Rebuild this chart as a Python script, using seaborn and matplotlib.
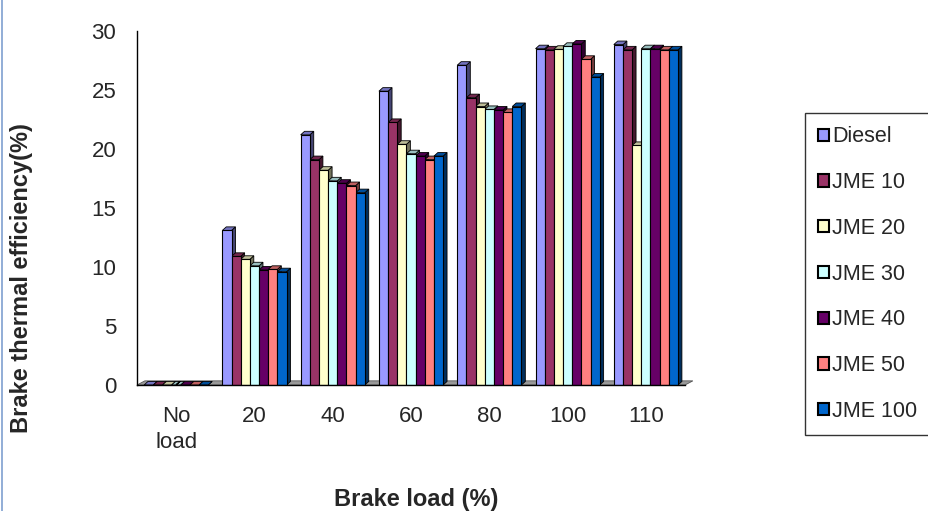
import matplotlib
matplotlib.use("Agg")
import matplotlib.pyplot as plt
from matplotlib.patches import Polygon, Rectangle
import seaborn as sns
import pandas as pd

loads = ["No\nload", "20", "40", "60", "80", "100", "110"]
fuels = ["Diesel", "JME 10", "JME 20", "JME 30", "JME 40", "JME 50", "JME 100"]
diesel = [0, 13.1, 21.2, 24.9, 27.1, 28.5, 28.85]
jme10 = [0, 10.9, 19.1, 22.25, 24.35, 28.4, 28.4]
jme20 = [0, 10.65, 18.2, 20.4, 23.6, 28.45, 20.3]
jme30 = [0, 10.1, 17.3, 19.6, 23.35, 28.7, 28.5]
jme40 = [0, 9.75, 17.1, 19.4, 23.3, 28.9, 28.5]
jme50 = [0, 9.8, 16.9, 19.1, 23.1, 27.6, 28.4]
jme100 = [0, 9.6, 16.3, 19.4, 23.6, 26.1, 28.4]
colors = ["#9999FF", "#993366", "#FFFFCC", "#CCFFFF", "#660066", "#FF8080", "#0066CC"]

series = [diesel, jme10, jme20, jme30, jme40, jme50, jme100]
rows = []
for f, vals in zip(fuels, series):
    for l, v in zip(loads, vals):
        rows.append({"load": l, "fuel": f, "eff": v})
df = pd.DataFrame(rows)

sns.set_style("white")
plt.rcParams["font.family"] = ["Liberation Sans", "DejaVu Sans"]

fig = plt.figure(figsize=(9.29, 5.11), dpi=100)
ax = fig.add_axes([0.1475, 0.2466, 0.600, 0.6927])

sns.barplot(data=df, x="load", y="eff", hue="fuel", order=loads, hue_order=fuels,
            palette=colors, width=0.82, edgecolor="black", linewidth=0.8,
            ax=ax, legend=True, saturation=1)

# pseudo 3D depth
dx, dy = 0.05, 0.3
for patch in list(ax.patches):
    x = patch.get_x(); w = patch.get_width(); h = patch.get_height()
    fc = patch.get_facecolor()
    dark = tuple(c * 0.45 for c in fc[:3])
    side = Polygon([(x + w, 0), (x + w + dx, dy), (x + w + dx, h + dy), (x + w, h)],
                   closed=True, facecolor=dark, edgecolor="black", linewidth=0.6,
                   zorder=patch.get_zorder() - 0.1)
    top = Polygon([(x, h), (x + dx, h + dy), (x + w + dx, h + dy), (x + w, h)],
                  closed=True, facecolor=tuple(c * 0.75 for c in fc[:3]), edgecolor="black",
                  linewidth=0.6, zorder=patch.get_zorder() - 0.1)
    ax.add_patch(side)
    ax.add_patch(top)

# floor
floor = Polygon([(-0.5, 0), (6.5, 0), (6.5 + 0.1, 0.35), (-0.5 + 0.1, 0.35)], closed=True,
                facecolor="#999999", edgecolor="#555555", linewidth=0.6, zorder=0.5)
ax.add_patch(floor)

ax.set_xlim(-0.5, 6.62)
ax.set_ylim(0, 30)
ax.set_yticks(range(0, 31, 5))
ax.set_xticks(range(len(loads)))
ax.set_xticklabels(loads, linespacing=1.3)
ax.set_xticks([i - 0.5 for i in range(len(loads) + 1)], minor=True)
ax.tick_params(axis="x", which="major", length=0, pad=15, labelsize=16)
ax.tick_params(axis="x", which="minor", length=6, width=1, color="black", direction="out")
ax.tick_params(axis="y", length=6, width=1, color="black", direction="out", pad=9, labelsize=16)
for s in ["top", "right"]:
    ax.spines[s].set_visible(False)
for s in ["left", "bottom"]:
    ax.spines[s].set_color("black")
    ax.spines[s].set_linewidth(1)
ax.spines["bottom"].set_bounds(-0.5, 6.5)

ax.set_xlabel("Brake load (%)", fontsize=17, fontweight="bold")
ax.set_ylabel("Brake thermal efficiency(%)", fontsize=17, fontweight="bold")
ax.xaxis.set_label_coords(0.5, -0.29)
ax.yaxis.set_label_coords(-0.187, 0.302)

handles, labels = ax.get_legend_handles_labels()
ax.get_legend().remove()
leg = fig.legend(handles, labels, loc="upper left", bbox_to_anchor=(0.866, 0.779),
                 frameon=True, fancybox=False, shadow=False, fontsize=15.5,
                 handlelength=0.5, handleheight=0.5, handletextpad=0.15,
                 labelspacing=1.15, borderpad=0.62, borderaxespad=0)
leg.get_frame().set_edgecolor("black")
leg.get_frame().set_linewidth(1)
for hnd in leg.legend_handles:
    hnd.set_edgecolor("black")
    hnd.set_linewidth(1.5)

fig.patches.append(Rectangle((0.002, -0.01), 1.2, 1.2, transform=fig.transFigure,
                             fill=False, edgecolor="#7fa0d0", linewidth=1.2))

fig.savefig("out.png", dpi=100)
